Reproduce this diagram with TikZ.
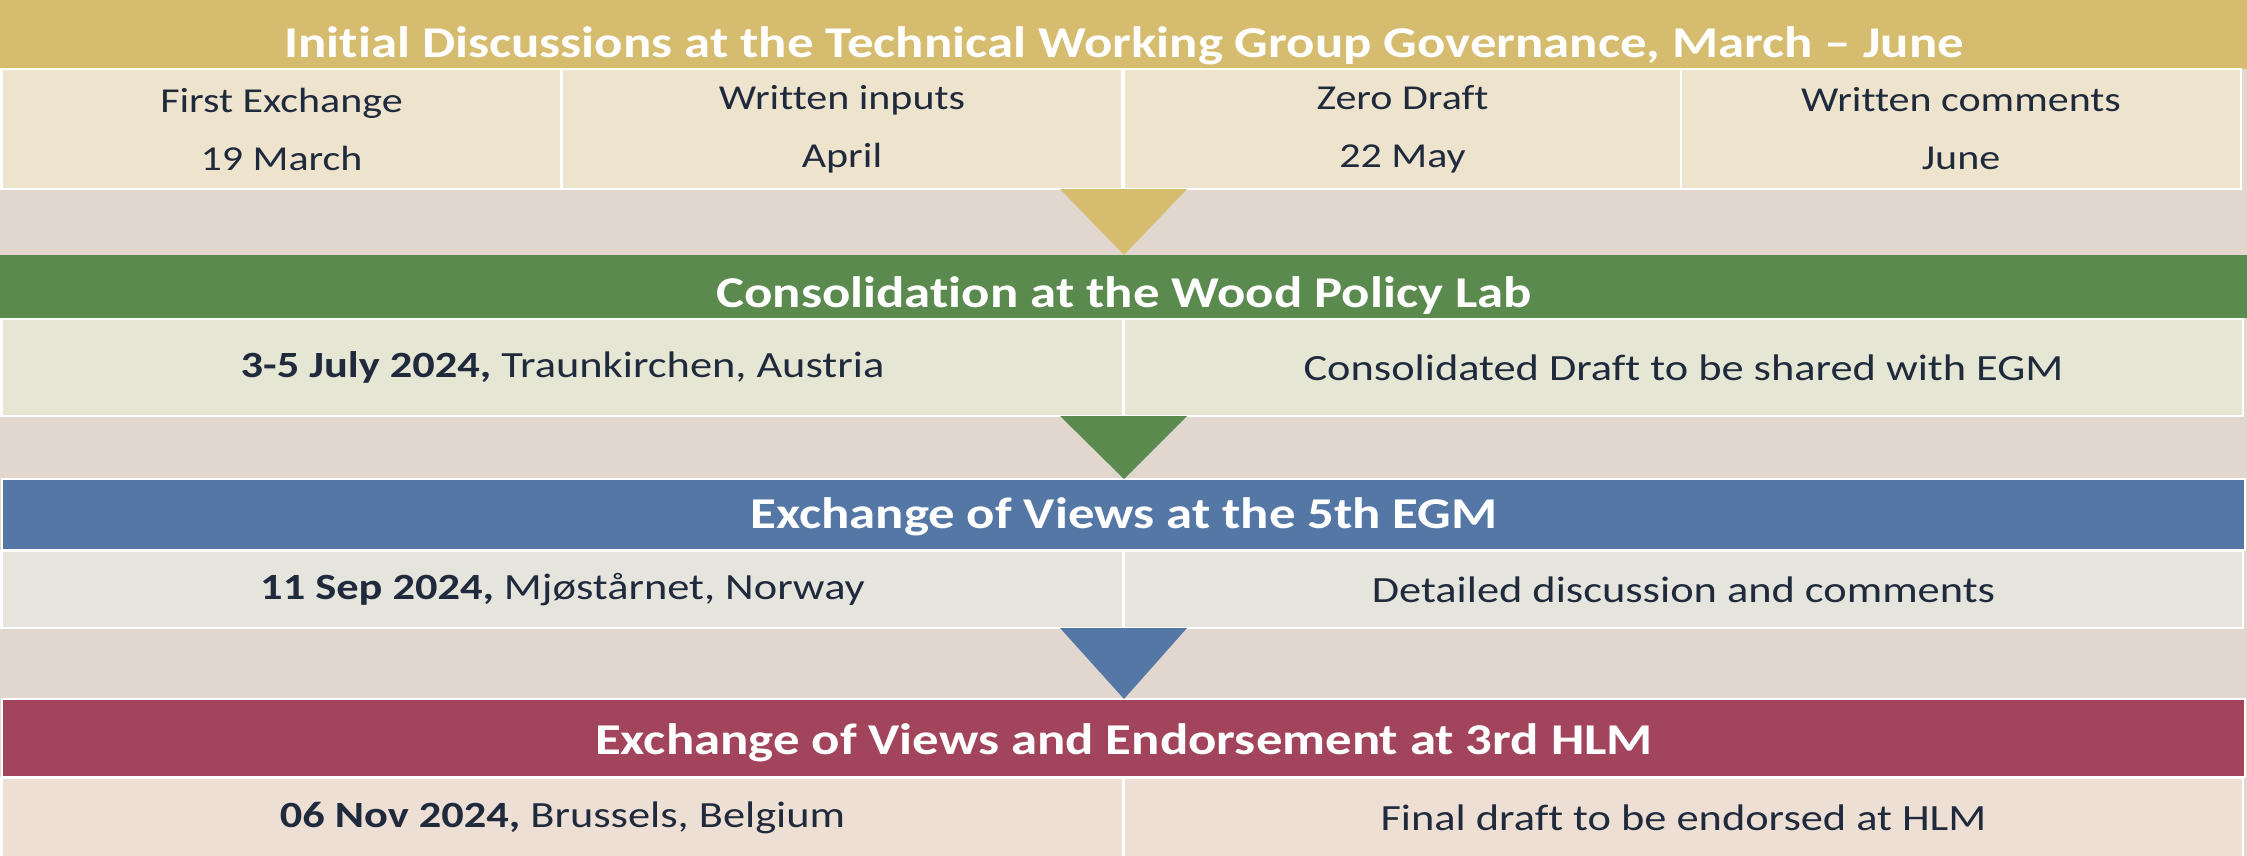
\documentclass[tikz,border=0pt]{standalone}
\usepackage{fontspec}
\setmainfont{Carlito}[FakeStretch=1.2, RawFeature={-liga;-clig;-calt;-dlig}]
\usetikzlibrary{calc}
\definecolor{bgwood}{HTML}{E2D7CE}
\definecolor{goldc}{HTML}{D6BC6E}
\definecolor{greenc}{HTML}{5A8A4E}
\definecolor{bluec}{HTML}{5577A6}
\definecolor{redc}{HTML}{A2455C}
\definecolor{goldrow}{HTML}{EEE3CC}
\definecolor{greenrow}{HTML}{E5E6D3}
\definecolor{bluerow}{HTML}{E6E5DD}
\definecolor{redrow}{HTML}{EEDFD4}
\definecolor{txt}{HTML}{1F2A3D}
\tikzset{
  hdr/.style={rectangle, inner sep=0pt, outer sep=0pt, anchor=north west, minimum width=2247pt},
  title/.style={text=white, inner sep=0pt, font=\bfseries\fontsize{44}{48}\selectfont},
  cellbox/.style={rectangle, draw=white, line width=2.5pt, inner sep=0pt, outer sep=0pt,
    anchor=north west, text=txt, align=center, font=\fontsize{37}{58}\selectfont},
  cellsmall/.style={cellbox, font=\fontsize{35}{58}\selectfont}
}
\begin{document}
\begin{tikzpicture}[x=1pt,y=-1pt]
\fill[bgwood] (0,0) rectangle (2247,856);
\useasboundingbox (0,0) rectangle (2247,856);
% Stage 1
\node[hdr, fill=goldc, minimum height=69pt] (h1) at (0,0) {};
\node[title] (t1) at (1124,46) {Init\kern0pt ial Discussions at the Technical Working Group Governance, March – June};
\node[cellsmall, fill=goldrow, minimum width=560pt, minimum height=120pt] (c11) at (1.5,69) {First Exchange\\19 March};
\node[cellsmall, fill=goldrow, minimum width=560pt, minimum height=120pt] (c12) at (562,69) {Written inputs\\April};
\node[cellsmall, fill=goldrow, minimum width=557pt, minimum height=120pt] (c13) at (1124,69) {Zero Draft\\22 May};
\node[cellsmall, fill=goldrow, minimum width=560pt, minimum height=120pt] (c14) at (1681,69) {Written comments\\June};
% Stage 2
\node[hdr, fill=greenc, minimum height=63pt] (h2) at (0,255) {};
\node[title] (t2) at (1124,296) {Consolidat\kern0pt ion at the Wood Policy Lab};
\node[cellbox, fill=greenrow, minimum width=1122pt, minimum height=97pt] (c21) at (1.5,319) {\textbf{3-5 July 2024,} Traunkirchen, Austria};
\node[cellbox, fill=greenrow, minimum width=1119pt, minimum height=97pt] (c22) at (1124,319) {Consolidated Draft to be shared with EGM};
% Stage 3
\node[hdr, fill=bluec, draw=white, line width=2pt, minimum width=2243pt, minimum height=71pt] (h3) at (2,479) {};
\node[title] (t3) at (1124,517) {Exchange of Views at the 5th EGM};
\node[cellbox, fill=bluerow, minimum width=1122pt, minimum height=77pt] (c31) at (1.5,551) {\textbf{11 Sep 2024,} Mjøstårnet, Norway};
\node[cellbox, fill=bluerow, minimum width=1119pt, minimum height=77pt] (c32) at (1124,551) {Detailed discussion and comments};
% Stage 4
\node[hdr, fill=redc, draw=white, line width=2pt, minimum width=2243pt, minimum height=78pt] (h4) at (2,699) {};
\node[title] (t4) at (1124,743) {Exchange of Views and Endorsement at 3rd HLM};
\node[cellbox, fill=redrow, minimum width=1122pt, minimum height=80pt] (c41) at (1.5,778) {\textbf{06 Nov 2024,} Brussels, Belgium};
\node[cellbox, fill=redrow, minimum width=1119pt, minimum height=80pt] (c42) at (1124,778) {Final draft to be endorsed at HLM};
% Arrows between stages
\fill[goldc] ($(c13.south west)+(-64,0)$) -- ($(c13.south west)+(63,0)$) -- (c13.south west |- h2.north) -- cycle;
\fill[greenc] ($(c22.south west)+(-64,0)$) -- ($(c22.south west)+(63,0)$) -- (c22.south west |- h3.north) -- cycle;
\fill[bluec] ($(c32.south west)+(-64,0)$) -- ($(c32.south west)+(63,0)$) -- (c32.south west |- h4.north) -- cycle;
\end{tikzpicture}
\end{document}
